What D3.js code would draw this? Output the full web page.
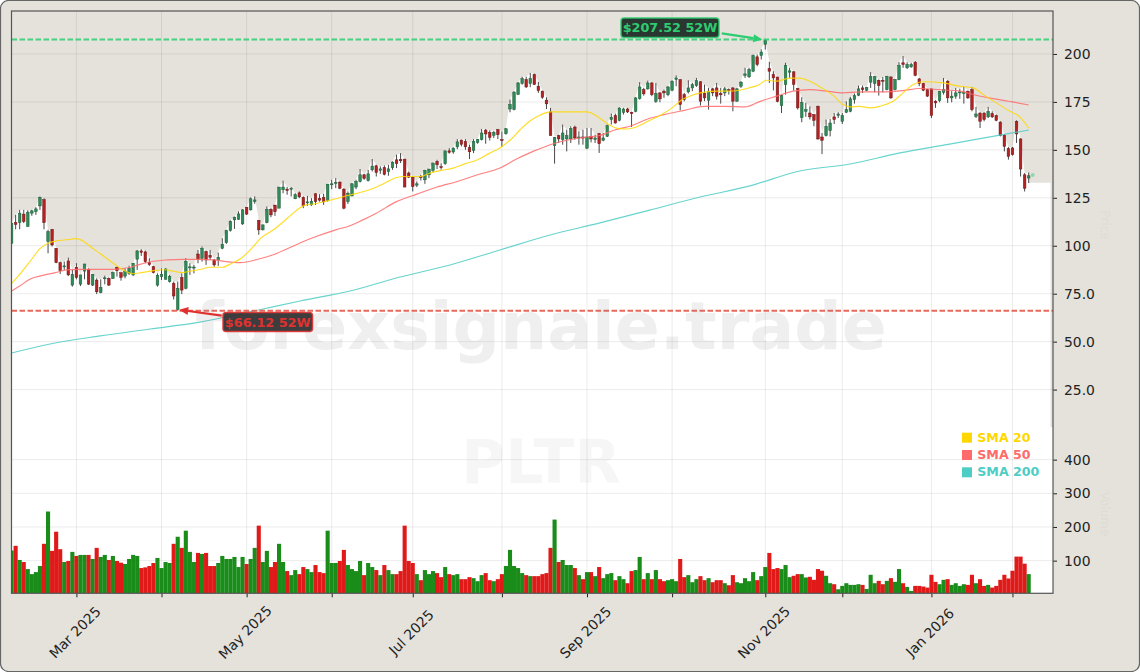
<!DOCTYPE html>
<html><head><meta charset="utf-8">
<script src="https://cdn.jsdelivr.net/npm/d3@7"></script>
<style>html,body{margin:0;padding:0;background:#fff}svg{display:block}text{font-family:"DejaVu Sans",sans-serif}</style>
</head><body><svg id="c" width="1140" height="672"></svg>
<script>
const opens=[101.3,112.1,112.1,116.5,110,117,117.8,120.8,124,102.2,
108.6,98.7,91.2,89.1,92.1,79.5,88.8,80,86.8,87.7,
79.5,82.1,75.5,82.9,83,83,88.8,86,84.2,85.6,
84.8,93,97.3,96.8,91.2,89.1,79.5,83.9,82.5,81.3,
80.4,66.8,83.5,77.8,88.5,88.4,95.7,93.5,97,95,
92.6,92.6,98.7,101.6,107.9,113.5,113.8,111.4,120.1,118.7,
123.1,113.2,108.3,112.1,119,121.2,119.6,129.2,129.5,129.5,
124.5,127.6,125.3,122.4,121.3,127.1,124.6,125.3,123.6,131.8,
132.6,133.2,129.5,123,126,130.6,133.5,137,133.9,139.6,
141.7,139.3,140.8,138.6,140.7,144.8,145,145.2,137.9,135.6,
131.6,136,134.4,137,139.3,144,141.2,142.8,149.5,148.9,
151.6,155.1,154.4,151.1,149.7,153.9,155.3,160.3,159.1,157.6,
160.5,155.3,158.4,171.3,171,178.8,184.6,186.7,184.6,189.3,
183.2,180.6,175.9,169.8,152.2,157.4,155.3,155.7,155.7,161.9,
156.4,156.7,150.9,157,155.3,158.5,155,157.1,165.8,167.9,
165.4,169.6,171.3,169.6,170.1,176.7,181.4,181.8,184.9,175.3,
179.7,180.6,178.8,181.1,186.7,186.7,178.8,180.2,182.3,183.5,
185.5,179.4,175.9,181.8,182.3,179.4,179.7,181.4,182.3,175.4,
183.2,188.8,188.1,191,198.5,199.2,205,192.4,189.3,188,
173.1,184.1,190.5,190.7,182,166.8,170.1,169.2,168.4,172.7,
156.7,157.4,160,167.2,168,164.9,169.6,170.1,176.2,178.5,
182.3,181.1,185.3,184.6,186.3,186.3,181.4,188,181.4,186.7,
195.4,192.8,193.3,195.7,187,184.6,181.4,181.8,175.3,175.7,
180,185.8,177.1,178,179.7,179.4,180.6,181.4,167.5,169.2,
169.2,167.2,168.9,167.9,164.5,157.7,150.6,151,164.9,155.7,137,135.3];
const closes=[111.8,111.1,117,112.6,117.5,118.2,119.2,125.2,112.1,107.4,
100.4,91.2,87,89.5,84.8,85.1,83.4,84.8,90.5,80,
85.1,76,78.3,83.3,79.5,86,87,83.5,86.8,88.2,
90.9,97.3,96.6,91.7,90.2,86,84.6,85.1,87.9,83.9,
73.8,77.8,76.9,91.9,89,88.9,93,98.7,92.6,94,
90,94,100.8,107.9,112.8,114.9,116.6,118.7,116.5,124.5,
123.9,108.3,110.9,119,116.1,117.8,130.6,130.6,128.8,130,
126.6,125.5,120.8,122.9,123.2,123,123.8,122.9,132.1,132.3,
133,130,119.6,127.4,132.3,133.5,137,135.1,137.5,141.5,
138.2,140.1,137.2,140.1,143.6,142.8,144.3,130.6,135.8,130.9,
132.3,135.5,139.3,140,143.1,142.2,140.8,149.5,148.7,150.9,
154.2,152.9,151.6,149,154.4,155.3,158.8,158.3,156.5,159.1,
157.9,154.8,161,173.6,180.1,184.9,187.2,182.8,187.2,184,
180.9,177.4,174,157.4,156.4,155.7,158.8,157.4,161.1,156.2,
156.7,156.2,156.7,155.7,156.2,153.2,156.2,162.6,167,164,
171.8,171.3,169.8,168.9,177.1,182.8,179.2,184.9,178.8,179.4,
176.6,179.7,182.8,185.8,187.5,173.6,176.2,182.3,184,186.1,
175.4,177.1,180.6,179.7,178,178.7,181.8,180.9,175.4,181.8,
185.3,189.6,191.9,199.2,194.5,201,207,191,187.5,175.2,
178.3,194,191.2,184.1,171.9,174.7,171,167.2,165.4,155.7,
155,162.3,164,165.8,168.7,167.9,171,176.6,178.3,181.8,
181.4,182.5,188.2,188.2,183.5,185.8,188.4,177.1,186.7,194,
194.5,194.5,194.5,188.8,184.6,181.1,178,167.9,174.5,180.4,
181.4,177.1,178,179.7,180.2,180,177.1,171,168.7,164.9,
165.8,170.1,167.2,165.4,157.4,151.8,146.6,147.5,158.3,140,130,136.5];
const highs=[111.8,116.1,118.7,118.7,118.5,118.7,120.1,125.7,124.8,108.3,
108.6,98.7,91.7,91.7,93.8,87.4,90.9,84.8,90.5,88.2,
85.1,83,82.5,84.4,83.5,86.5,89.1,86,88.2,89.6,
90.9,97.8,98.2,97.5,93.5,89.5,85.6,88.2,88.2,84.8,
81.3,81.3,85.6,93.5,90.9,90,97.8,99.6,97.5,97.8,
93,96.4,103.9,108.3,113.2,115.2,117.9,119.1,120.1,125.2,
125.7,113.5,111,120.5,119.6,121.2,130.6,133.9,130.6,130.6,
127.4,128.3,125.7,126,124.8,127.4,126.9,127.1,132.1,134.4,
135.3,133.5,130,128.3,132.7,134.4,140,137.5,139.6,145.2,
142.2,141.4,141.9,142.2,144,147.5,148.3,145.2,138.7,136.1,
133.5,137,139.6,140,143.4,144.8,143,149.5,150.9,151.3,
155.6,155.3,155.6,152.7,155.6,155.6,160.9,160.9,160.2,159.8,
160.9,159.6,161.4,176.2,180.6,185.3,188.1,188.1,190.1,189.8,
185.4,180.9,177.4,171.9,156.7,157.9,163.2,160.5,162.3,162.6,
159.7,160.5,161.4,161.4,157.9,158.8,158.8,163.2,168.9,168.9,
172.2,171.9,171.9,169.9,177.4,185.3,182.3,186.1,185.3,184.9,
180,181.4,183.2,186.3,188.8,186.7,179.7,186.3,184.9,187.5,
185.8,184,182.3,182.3,184.9,182.3,182.8,182,182.7,182.3,
185.8,192.8,192.8,199.7,199.7,202.4,207.52,195.9,191,188,
178.8,195.4,192.8,191,182.3,177.4,174.5,172.7,168.7,173.1,
158.8,165.8,166.1,169.2,169.6,169.2,175.3,177.6,179.4,183.5,
183.5,182.8,190.5,188.4,186.7,188,188.4,188.4,187,195.7,
198.9,195.7,195.4,196.3,187.4,184.9,181.8,181.8,175.9,180.6,
187.5,186.3,180.6,182.3,181.8,182.8,180.9,182.8,172.4,169.6,
169.6,172.4,170.1,168.4,164.9,158,151.5,151.5,165.4,156,137.9,138.2];
const lows=[101.3,108.6,108.6,111.8,110,115.6,116.1,118.7,108.6,96.1,
99.6,90.9,85.3,87.4,84.2,78.7,82.5,79,82.5,79.5,
79,74.8,75.2,79.9,79,82.7,83.9,81.8,83,84.8,
84.2,87.4,94.7,90.9,89.5,85.6,78.7,82.1,82.5,80.8,
72,66.12,74.8,77.3,84.8,85.6,90.9,91.7,90,92.6,
89.1,89.5,98.2,101,107.4,108.8,113.5,110.9,116.1,118.4,
121.9,105.7,108,111.7,114.9,115.6,119.6,127.4,126.6,125.7,
124.3,124.8,119.6,120.8,120.8,121.3,123,121.3,123,129.5,
130,129.5,119,121.8,125.7,129.5,133,134.4,133.5,138.7,
136.1,137.5,136.7,136.5,139.6,140.5,143.1,130.6,135.3,128.3,
130.6,134,132.3,135.3,138.2,140,139.7,142.2,148,148,
150.4,151.8,150,145.2,148.3,153.2,154.9,153.2,154.9,156.2,
155.6,151.5,157.9,169.6,170.6,178.8,184,182.3,182.7,184,
179.7,176.6,171.3,157.4,142.8,153.6,152.7,149.2,153.6,155.3,
152.7,152.7,150.4,153.9,153.6,148.4,154.5,156.7,163.2,163.7,
164.9,168.4,169.2,161.9,169.6,176.2,178.3,181.4,178,174.5,
174.8,177.1,178,180.6,183.2,170.6,175.3,179.4,180.6,182.8,
173.1,175.4,171,178,176.2,174.1,178,178.8,170.1,175,
182.3,187.5,187.5,190.5,193.6,197.1,202.3,184.9,181,174.8,
169.2,178.8,187.5,180.9,171,164.4,167.2,165.8,162.3,155.3,
147.8,157,157,163.5,166.6,163.5,169.2,169.6,174.1,178,
179.7,180.6,182.3,180,178.3,180,181,176.6,181,186.3,
192.8,192.2,192.8,188.4,183.2,180.6,177.6,166.6,171.9,174.8,
178.8,174.5,174.8,176.6,176.6,174.1,176.6,170.1,166.6,161.4,
164.9,166.6,166.6,164.9,157,149.2,144.9,147,153.6,136.1,128.3,132.7];
const volumes=[130,144,102,96,75,60,66,84,150,246,
129,186,134,96,99,126,114,117,117,117,
105,138,111,117,102,114,99,94,90,105,
117,114,78,80,84,93,108,78,96,93,
150,171,138,189,126,96,123,120,123,84,
84,93,114,105,105,111,81,111,90,105,
138,204,96,129,81,96,150,96,69,57,
72,60,81,75,66,87,66,63,189,93,
93,99,132,87,75,69,99,57,93,81,
72,57,87,72,60,60,69,204,99,93,
60,42,72,60,69,63,51,81,60,57,
60,45,45,51,48,39,57,63,42,39,
45,60,84,132,84,78,63,57,54,54,
54,60,63,138,222,96,102,87,87,78,
57,45,66,66,54,81,48,60,63,42,
54,45,33,69,72,111,45,63,45,72,
45,39,42,45,39,105,51,57,36,45,
54,42,48,36,42,42,33,27,57,36,
33,48,39,66,42,54,81,123,75,78,
75,87,51,55,60,60,50,52,43,75,
70,55,33,30,15,25,33,28,28,30,
28,16,58,33,40,30,40,48,37,75,
33,22,10,25,25,23,20,58,37,30,
43,45,28,33,25,30,28,58,33,45,
25,28,20,25,43,58,47,70,112,112,91,60];

const priceTicks=[25,50,75,100,125,150,175,200];
const priceTickLabels=["25.0","50.0","75.0","100","125","150","175","200"];
const volumeTicks=[100,200,300,400];
const monthBars=[16,37,58,79,99,121,142,163,186,205,227,247];
const monthLabels=["Mar 2025","","May 2025","","Jul 2025","","Sep 2025","","Nov 2025","","Jan 2026",""];

const sma20Bars=[0,2,5,7,9,11,13,16,18,20,22,24,26,28,30,32,35,38,40,42,44,47,49,52,54,57,60,61.5,64.6,67,69,71,72.5,75,78,80,82,85,89,92,95,97,101,103,106,109,112,115,118,120.5,123,125.5,128,130.5,133,137,142,144.5,147,149.5,152,154,157,160,163,165.5,168,170,174,178,182,184.5,186.3,188.8,192,194.5,197,200.3,202.8,205.2,206.9,209.3,211.8,214.2,217.5,220,222.4,225,230,233,237.3,239.8,243,246.4,248.8,251];
const sma20Values=[80.4,85.1,93.1,98.5,101.3,102.5,103,103.7,102,98.7,95.7,92.6,89.5,86.8,85.4,86,87,87.5,86.7,86,86.7,87.9,88.8,88.8,90.5,94,100.4,104,108.3,112.4,116.1,119.6,121.2,121.9,123.4,124.5,125.7,127.2,129.7,132.6,135.6,136.1,136.1,137.7,139.3,140.5,142.8,144.8,148.3,151,155,160.5,165.2,168.2,169.8,169.8,169.8,167.5,163.7,161.2,160.9,161.8,164.9,167.9,171.9,176.2,178.5,179.7,180.6,180.7,182.3,184,186.3,185.8,187.4,187.4,185.8,181.8,178.3,173.6,172.4,172.7,171.9,172.7,175.3,179.7,184,185.5,184.9,183.5,182.3,178.8,174.5,170.1,167.2,161.4];
const sma50Bars=[0,2,4.5,8,10.8,13.6,17,21,25,29.3,31.7,35,38.3,42.4,45.7,50,53,56.4,61,64,69,74,80,83.5,86.7,90,95,100,105,110,115,120.5,124.6,128.7,132.9,137,142,145,149,153,157,161,166,171,176,181,184.7,188.8,192.9,197,201.1,205.2,209.3,215,220,224,229,234,238,242.3,247,251];
const sma50Values=[76.4,79,82.5,84.7,86,87.4,87.7,87.7,87.7,88.8,90.3,91.9,92.6,92.9,92.9,92.6,91.7,91.2,93.1,94.9,99.4,103.9,108.3,110.4,113.5,117,123,126.9,130.6,133.5,137,140.5,145.2,149.2,152.7,155,156.7,157.4,160.5,162.6,166.1,168.4,170.6,172.7,172.7,172.4,175.3,178,180.6,181.4,180.6,179.7,180.2,180.2,180.9,182,181.4,180.6,178.5,176.7,175,173.4];
const sma200Bars=[0,9.5,21.9,34.2,46.5,58.8,71.2,83.5,95.9,108.2,120.5,132.9,145.2,157.5,169.9,182.2,194.5,206.9,219.2,231.5,243.9,251];
const sma200Values=[44.1,48.8,53,56.6,60.2,65.5,71.2,76.4,83.7,90,97.8,105.6,111.9,118.6,125.4,131.2,139,142.6,148.4,153,157.7,160.3];

const high52=207.52, low52=66.12;
const lastMarkBar=252, lastMarkPrice=136.9;
const tailPrice=132.8, tailEndBar=256.4;
const legendNames=["SMA 20","SMA 50","SMA 200"];
const legendColors=["#FFD700","#FF6B6B","#4ECDC4"];

const W=1140,H=672,L=11.5,R=1053,T=11,M=427,B=593.3;
const BG="#e5e2dc";
const svg=d3.select("#c");
const x=d3.scaleLinear().domain([-0.02,257]).range([L,R]);
const y=d3.scaleLinear().domain([5.5,222.4]).range([M,T]);
const yV=d3.scaleLinear().domain([3,497]).range([B,M]);

svg.append("rect").attr("x",.5).attr("y",.5).attr("width",W-1).attr("height",H-1).attr("rx",8)
  .attr("fill",BG).attr("stroke","#666").attr("stroke-width",1.2);
const clip=svg.append("clipPath").attr("id","pc");
clip.append("rect").attr("x",L).attr("y",T).attr("width",R-L).attr("height",B-T);

svg.append("rect").attr("x",L).attr("y",T).attr("width",R-L).attr("height",M-T).attr("fill",BG);
svg.append("rect").attr("x",L).attr("y",M).attr("width",R-L).attr("height",B-M).attr("fill","#fff");

const idx=d3.range(opens.length);
const g=svg.append("g").attr("clip-path","url(#pc)");
const whitePts=idx.map(i=>[i,highs[i]]).concat([[idx.length-1,tailPrice],[tailEndBar,tailPrice]]);
g.append("path").attr("fill","#fff")
 .attr("d",d3.area().x(d=>x(d[0])).y0(y(5.5)).y1(d=>y(d[1]))(whitePts));

// grid
const grid=g.append("g").attr("stroke","#000").attr("stroke-opacity",.1).attr("stroke-width",.8);
grid.selectAll(".gx").data(monthBars).join("line").attr("x1",d=>x(d)).attr("x2",d=>x(d)).attr("y1",T).attr("y2",B);
grid.selectAll(".gy").data(priceTicks).join("line").attr("x1",L).attr("x2",R).attr("y1",d=>y(d)).attr("y2",d=>y(d));
grid.selectAll(".gv").data(volumeTicks).join("line").attr("x1",L).attr("x2",R).attr("y1",d=>yV(d)).attr("y2",d=>yV(d));

// watermarks
svg.append("text").attr("x",541).attr("y",349).attr("text-anchor","middle").attr("font-size",66.4).attr("font-weight","bold")
  .attr("fill","#808080").attr("fill-opacity",.13).text("forexsignale.trade");
svg.append("text").attr("x",541).attr("y",483).attr("text-anchor","middle").attr("font-size",60).attr("font-weight","bold")
  .attr("fill","#808080").attr("fill-opacity",.07).text("PLTR");
// faint side labels
svg.append("text").attr("transform","translate(1101,514) rotate(90)").attr("text-anchor","middle").attr("font-size",12).attr("fill","#dfdcd5").text("Volume");
svg.append("text").attr("transform","translate(1101,225) rotate(90)").attr("text-anchor","middle").attr("font-size",12).attr("fill","#dfdcd5").text("Price");

// volume
g.append("g").selectAll("rect").data(idx).join("rect")
 .attr("x",i=>x(i)-2.05).attr("width",4.1).attr("y",i=>yV(volumes[i])).attr("height",i=>B-yV(volumes[i]))
 .attr("fill",i=>closes[i]>=opens[i]?"#008000":"#dd0000").attr("fill-opacity",.9);

// SMA
const line=d3.line().x(d=>x(d[0])).y(d=>y(d[1])).curve(d3.curveMonotoneX);
function sma(bars,vals,c){g.append("path").attr("fill","none").attr("stroke",c).attr("stroke-width",1.15).attr("stroke-opacity",.85)
 .attr("d",line(bars.map((b,k)=>[b,vals[k]])));}

// candles
const cg=g.append("g");
cg.selectAll("line").data(idx).join("line").attr("x1",i=>x(i)).attr("x2",i=>x(i))
 .attr("y1",i=>y(highs[i])).attr("y2",i=>y(lows[i])).attr("stroke","#333").attr("stroke-width",.9);
cg.selectAll("rect").data(idx).join("rect")
 .attr("x",i=>x(i)-1.3).attr("width",2.6)
 .attr("y",i=>y(Math.max(opens[i],closes[i]))).attr("height",i=>Math.max(1,Math.abs(y(opens[i])-y(closes[i]))))
 .attr("fill",i=>closes[i]>=opens[i]?"#2e8b57":"#b22222")
 .attr("stroke",i=>closes[i]>=opens[i]?"#1d5c38":"#6e1818").attr("stroke-width",.5);

sma(sma200Bars,sma200Values,legendColors[2]);
sma(sma50Bars,sma50Values,legendColors[1]);
sma(sma20Bars,sma20Values,legendColors[0]);

// 52W lines
function hl(p,c){g.append("line").attr("x1",L).attr("x2",R).attr("y1",y(p)).attr("y2",y(p))
  .attr("stroke",c).attr("stroke-width",2).attr("stroke-dasharray","5.5,2.5").attr("stroke-opacity",.85);}
hl(high52,"#2ecc71");hl(low52,"#e74c3c");

svg.append("circle").attr("cx",x(lastMarkBar)).attr("cy",y(lastMarkPrice)).attr("r",2).attr("fill","#2ecc71").attr("fill-opacity",.45);

// axes
function styleAxis(a){a.select(".domain").remove();a.selectAll("line").attr("stroke","#222").attr("stroke-width",1);
  a.selectAll("text").attr("font-size",13.9).attr("fill","#222").attr("font-family","DejaVu Sans");}
const ay=svg.append("g").attr("transform",`translate(${R},0)`).call(d3.axisRight(y).tickValues(priceTicks).tickSize(4).tickPadding(7).tickFormat((d,i)=>priceTickLabels[i]));
styleAxis(ay);
const av=svg.append("g").attr("transform",`translate(${R},0)`).call(d3.axisRight(yV).tickValues(volumeTicks).tickSize(4).tickPadding(7).tickFormat(d3.format("d")));
styleAxis(av);
const ax=svg.append("g").attr("transform",`translate(0,${B})`).call(d3.axisBottom(x).tickValues(monthBars).tickSize(4).tickFormat((d,i)=>monthLabels[i]));
styleAxis(ax);
ax.selectAll("text").attr("text-anchor","middle").attr("dy",0).attr("y",0).attr("transform","translate(-2,39) rotate(-45)").attr("dominant-baseline","central");

// spines
svg.append("rect").attr("x",L).attr("y",T).attr("width",R-L).attr("height",B-T).attr("fill","none").attr("stroke","#555").attr("stroke-width",1.2);

// annotations
function arrow(x1,y1,x2,y2,c){
  const a=Math.atan2(y2-y1,x2-x1),len=9,wd=4;
  const bx=x2-len*Math.cos(a),by=y2-len*Math.sin(a);
  svg.append("line").attr("x1",x1).attr("y1",y1).attr("x2",bx).attr("y2",by).attr("stroke",c).attr("stroke-width",2.2);
  svg.append("path").attr("fill",c).attr("d",`M${x2},${y2}L${bx-wd*Math.sin(a)},${by+wd*Math.cos(a)}L${bx+wd*Math.sin(a)},${by-wd*Math.cos(a)}Z`);
}
function note(bx,by,bw,bh,txt,c,fill){
  svg.append("rect").attr("x",bx).attr("y",by).attr("width",bw).attr("height",bh).attr("rx",3)
    .attr("fill",fill).attr("fill-opacity",.95).attr("stroke",c).attr("stroke-width",1.5).attr("stroke-opacity",.9);
  svg.append("text").attr("x",bx+bw/2).attr("y",by+bh/2+4.6).attr("text-anchor","middle").attr("font-size",12.8).attr("font-weight","bold").attr("fill",c).text(txt);
}
arrow(721.7,33.3,x(186)-3,y(high52),"#2ecc71");
note(621,18,98,19.5,"$207.52 52W","#2ecc71","#1f2d26");
arrow(221.7,315.7,x(41)+1.5,y(low52)-1,"#e03131");
note(223,312.5,89.5,19,"$66.12 52W","#e03131","#333333");

// legend
const lg=svg.append("g");
legendNames.forEach((n,k)=>{
  lg.append("rect").attr("x",962).attr("y",432.7+17.3*k).attr("width",10).attr("height",10).attr("fill",legendColors[k]);
  lg.append("text").attr("x",977.3).attr("y",441.5+17.2*k).attr("font-size",12.6).attr("font-weight","bold").attr("fill",legendColors[k]).text(n);
});
</script></body></html>
